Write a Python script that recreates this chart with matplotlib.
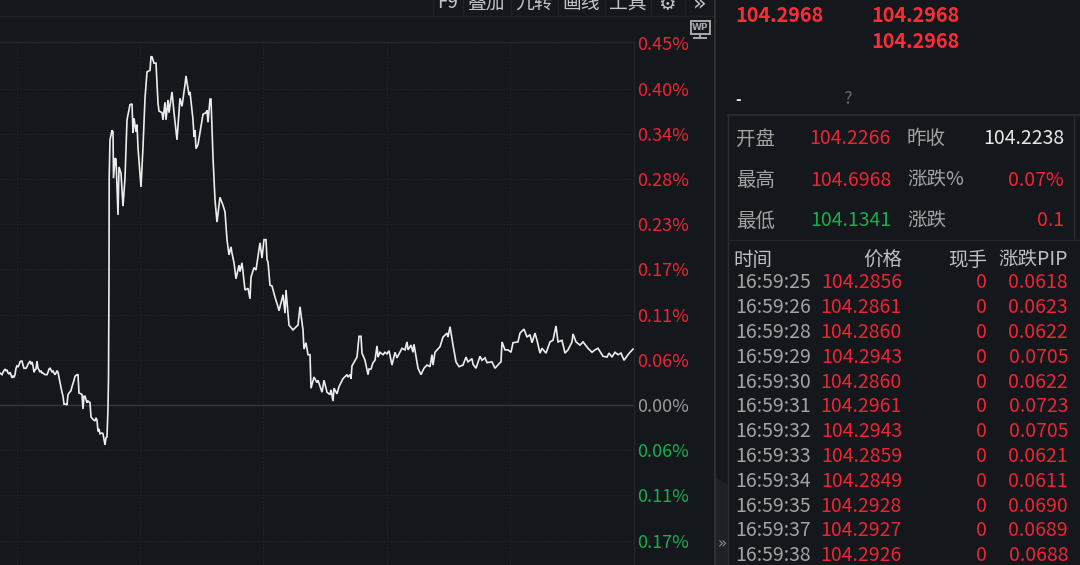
import matplotlib
matplotlib.use("Agg")
import matplotlib.pyplot as plt
from matplotlib.patches import Polygon, Rectangle

plt.rcParams["font.family"] = ["Noto Sans CJK SC", "DejaVu Sans"]

BG = "#14171c"
RED = "#ee2433"
BRIGHT_RED = "#ff2b36"
GREEN = "#14b04c"
GREY = "#a3a3a3"
WHITE = "#e8e8e8"
GRID = "#23272d"

# ---- data ----
steps = [0, 1, 2, 3, 4, 5, 6, 7, 8, 9, 10, 11, 12, 13, 14, 15, 16, 17, 18, 19, 20, 21, 22, 23, 24, 25, 26, 27, 28, 29,
         30, 31, 32, 33, 34, 35, 36, 37, 38, 39, 40, 41, 42, 43, 44, 45, 46, 47, 48, 49, 50, 51, 52, 53, 54, 55, 56, 57, 58,
         60, 62, 63, 64, 65, 66, 67, 68, 69, 71, 72, 74, 75, 77, 78, 79, 81, 82, 83, 84, 85, 87, 88, 90, 91, 93, 95, 96, 97,
         98, 99, 100, 102, 103, 105, 106, 107, 108, 108.5, 109, 109.2, 110, 112, 113, 113.5, 115, 116, 118, 119, 121, 123,
         125, 126, 127, 130, 132, 133, 134, 136, 137, 138, 141, 143, 145, 147, 150, 151, 152, 154, 156, 158, 159, 162, 163,
         165, 166, 168, 169, 172, 174, 177, 180, 182, 185, 186, 189, 190, 193, 194, 195, 196, 198, 203, 206, 207, 208, 210,
         211, 213, 215, 217, 220, 223, 225, 227, 229, 231, 232, 234, 236, 239, 240, 242, 245, 248, 250, 251, 254, 256, 260,
         262, 264, 266, 267, 268, 270, 272, 275, 278, 279, 283, 285, 286, 289, 293, 297, 298, 300, 303, 304, 306, 308, 310,
         311, 314, 317, 318, 322, 324, 327, 330, 331, 333, 334, 337, 339, 343, 347, 348, 350, 351, 352, 357, 359, 361, 362,
         365, 368, 369, 371, 373, 375, 377, 378, 380, 383, 385, 387, 389, 392, 395, 397, 402, 405, 407, 408, 411, 413, 414,
         418, 421, 424, 427, 430, 432, 433, 435, 440, 443, 447, 448, 450, 453, 456, 459, 463, 466, 468, 472, 473, 476, 480,
         482, 485, 487, 492, 495, 500, 501, 502, 505, 508, 511, 513, 518, 520, 524, 527, 530, 532, 535, 537, 540, 542, 546,
         550, 553, 556, 558, 562, 565, 568, 572, 573, 576, 580, 583, 588, 592, 595, 598, 603, 607, 609, 612, 615, 618, 621,
         624, 628, 630, 633]

change_pct = [.040, .039, .038, .041, .043, .045, .043, .044, .040, .039, .041, .038, .034, .036, .035, .038, .046, .049,
              .048, .050, .054, .055, .055, .050, .046, .046, .046, .048, .051, .053, .055, .051, .054, .049, .041, .044,
              .045, .055, .046, .044, .041, .043, .040, .040, .039, .038, .038, .038, .041, .045, .046, .044, .041, .043,
              .040, .038, .040, .043, .041,
              .028, .016, .011, .001, .001, .001, .000, .013, .015, .018, .023, .031, .036, .038, .038, .015, .014, .013,
              -.005, .011, .011, .003, .005, .003, -.015, -.018, -.020, -.016, -.019,
              -.033, -.030, -.036, -.035, -.036, -.050, -.041, -.040, -.004, .034, .159, .285, .332, .344, .342, .284, .309,
              .308, .238, .298, .290, .249,
              .284, .319, .357, .376, .377, .341, .359, .342, .351, .322, .273, .323, .384, .417, .419, .436, .436, .428,
              .428, .378, .368, .366, .357,
              .379, .357, .382, .366, .392, .366, .332, .384, .374, .401, .412, .388, .392, .357, .336, .344, .321, .326,
              .364, .366, .369, .354, .383,
              .383, .310, .257, .229, .260, .250, .242, .207, .188, .198, .190, .178, .158, .175, .167, .178, .144, .146,
              .133, .160, .172, .169, .203,
              .184, .207, .207, .182, .179, .150, .149, .135, .123, .118, .138, .115, .144, .100, .094, .099, .100, .123,
              .094, .070, .078, .063, .063,
              .021, .035, .028, .031, .016, .031, .016, .013, .019, .005, .021, .014, .023, .033, .038, .035, .038, .033,
              .049, .060, .086, .086, .065,
              .056, .038, .045, .045, .053, .056, .074, .060, .066, .063, .066, .064, .068, .050, .066, .059, .071, .069,
              .079, .069, .075, .066, .076,
              .046, .038, .046, .050, .048, .063, .050, .066, .073, .085, .090, .085, .098, .075, .054, .048, .050, .060,
              .054, .058, .051, .046, .061,
              .056, .059, .053, .054, .046, .053, .054, .079, .069, .069, .066, .078, .079, .090, .095, .085, .088, .078,
              .090, .081, .065, .071, .065,
              .079, .081, .099, .079, .081, .065, .069, .079, .089, .079, .075, .079, .071, .066, .069, .071, .061, .060,
              .065, .060, .066, .063, .065,
              .056, .063, .066, .070]

tick_values = [.4528, .3962, .3396, .2830, .2264, .1698, .1132, .0566, 0, -.0566, -.1132, -.1698]
tick_labels = ["0.45%", "0.40%", "0.34%", "0.28%", "0.23%", "0.17%", "0.11%", "0.06%", "0.00%", "0.06%", "0.11%", "0.17%"]
grid_steps = [17, 140, 263, 387, 510]

toolbar_items = ["F9", "叠加", "九转", "画线", "工具"]
quote_prices = ["104.2968", "104.2968", "104.2968"]

summary_left = [("开盘", "104.2266", RED), ("最高", "104.6968", RED), ("最低", "104.1341", GREEN)]
summary_right = [("昨收", "104.2238", WHITE), ("涨跌%", "0.07%", RED), ("涨跌", "0.1", RED)]

headers = ["时间", "价格", "现手", "涨跌PIP"]
times = ["16:59:25", "16:59:26", "16:59:28", "16:59:29", "16:59:30", "16:59:31",
         "16:59:32", "16:59:33", "16:59:34", "16:59:35", "16:59:37", "16:59:38"]
prices = ["104.2856", "104.2861", "104.2860", "104.2943", "104.2860", "104.2961",
          "104.2943", "104.2859", "104.2849", "104.2928", "104.2927", "104.2926"]
volumes = ["0"] * 12
pips = ["0.0618", "0.0623", "0.0622", "0.0705", "0.0622", "0.0723",
        "0.0705", "0.0621", "0.0611", "0.0690", "0.0689", "0.0688"]

W, H = 1080, 565
TEXT_SIZE = 14

fig = plt.figure(figsize=(W / 100, H / 100), dpi=100, facecolor=BG)

# overlay in picture pixels, for the panel furniture and the quote table
panel = fig.add_axes([0, 0, 1, 1], facecolor=BG)
panel.set_xlim(0, W)
panel.set_ylim(H, 0)
panel.axis("off")


def txt(x, y, s, color=GREY, size=TEXT_SIZE, ha="left", **kw):
    panel.text(x, y, s, color=color, fontsize=size, ha=ha, va="center", **kw)


# ---- price chart ----
ax = fig.add_axes([0, 0, 634 / W, (H - 42) / H], facecolor=BG)
ax.set_xlim(0, 634)
ax.set_ylim((405 - 565) * 0.001252, (405 - 42) * 0.001252)
ax.plot(steps, change_pct, color="#ececec", lw=1.2, solid_joinstyle="miter", zorder=3)
ax.axhline(0, color="#34373c", lw=1.0, zorder=2)
for v in tick_values:
    if v != 0:
        ax.axhline(v, color=GRID, lw=0.8, ls=(0, (1, 2)), zorder=1)
for s in grid_steps:
    ax.axvline(s, color=GRID, lw=0.8, ls=(0, (1, 2)), zorder=1)
ax.set_xticks([])
ax.yaxis.tick_right()
ax.set_yticks(tick_values)
ax.set_yticklabels(tick_labels, fontsize=13)
ax.tick_params(axis="y", length=0, pad=2.5)
for lab, v in zip(ax.get_yticklabels(), tick_values):
    lab.set_color(RED if v > 0 else GREEN if v < 0 else "#9a9a9a")
for name, spine in ax.spines.items():
    spine.set_visible(name in ("top", "right"))
    spine.set_color("#212429")
    spine.set_linewidth(1.0)

# ---- toolbar (its labels run off the top edge, as in the screenshot) ----
for x, label in zip([448, 487, 534, 581, 628], toolbar_items):
    txt(x, 3, label, color="#c4c4c4", size=13.5, ha="center")
for x in [433, 463, 511, 558, 605, 651, 685]:
    panel.plot([x, x], [0, 15], color="#1f2227", lw=1)
panel.plot([0, 714], [15.5, 15.5], color="#1f2227", lw=1)
txt(667, 4, "\u2699", color="#c4c4c4", size=14, ha="center", family="DejaVu Sans")
txt(700, 3, "\u00bb", color="#c4c4c4", size=16, ha="center", family="DejaVu Sans")

# WP badge
panel.add_patch(Rectangle((690.5, 21), 19, 12.5, fill=False, ec="#a8a8a8", lw=1.4))
txt(700, 27.2, "WP", color="#a8a8a8", size=6.5, ha="center", fontweight="bold", family="DejaVu Sans")
panel.plot([700, 700], [33.5, 37], color="#a8a8a8", lw=1.4)
panel.plot([694, 706], [37.5, 37.5], color="#a8a8a8", lw=1.4)

# ---- panel separators ----
panel.plot([714.5, 714.5], [0, H], color="#2d3035", lw=1.5)
panel.plot([728, 728], [115, H], color="#2a2d32", lw=1.0)
panel.plot([728, W], [114.5, 114.5], color="#2a2d32", lw=1.2)
panel.plot([728, W], [239.5, 239.5], color="#22252a", lw=1)
panel.plot([1074, 1074], [116, 238], color="#2a2d32", lw=1.0)
panel.add_patch(Polygon([(716, 478), (728, 484), (728, H), (716, H)], fc="#1e2125", ec="none"))
txt(722, 544, "\u00bb", color="#8c8c8c", size=11, ha="center", family="DejaVu Sans")

# ---- top quote ----
for (x, y), price in zip([(735, 16), (871, 16), (871, 41)], quote_prices):
    txt(x, y, price, color=BRIGHT_RED, size=14.3, fontweight="bold")
txt(735, 100, "-", color=WHITE, size=11, fontweight="bold")
txt(847, 99, "?", color="#666666", size=13, ha="center")

# ---- summary block ----
for y, (lab1, val1, col1), (lab2, val2, col2) in zip([139, 180, 221], summary_left, summary_right):
    txt(736, y, lab1)
    txt(891, y, val1, color=col1, ha="right")
    txt(907, y, lab2)
    txt(1064, y, val2, color=col2, ha="right")

# ---- tick table ----
txt(733, 260, headers[0], color="#c0c0c0")
for x, label in zip([902, 987, 1068], headers[1:]):
    txt(x, 260, label, color="#c0c0c0", ha="right")
for i in range(len(times)):
    y = 283 + 24.8 * i
    txt(735, y, times[i])
    txt(902, y, prices[i], color=RED, ha="right")
    txt(987, y, volumes[i], color=RED, ha="right")
    txt(1068, y, pips[i], color=RED, ha="right")

fig.savefig("out.png", dpi=100, facecolor=BG)
